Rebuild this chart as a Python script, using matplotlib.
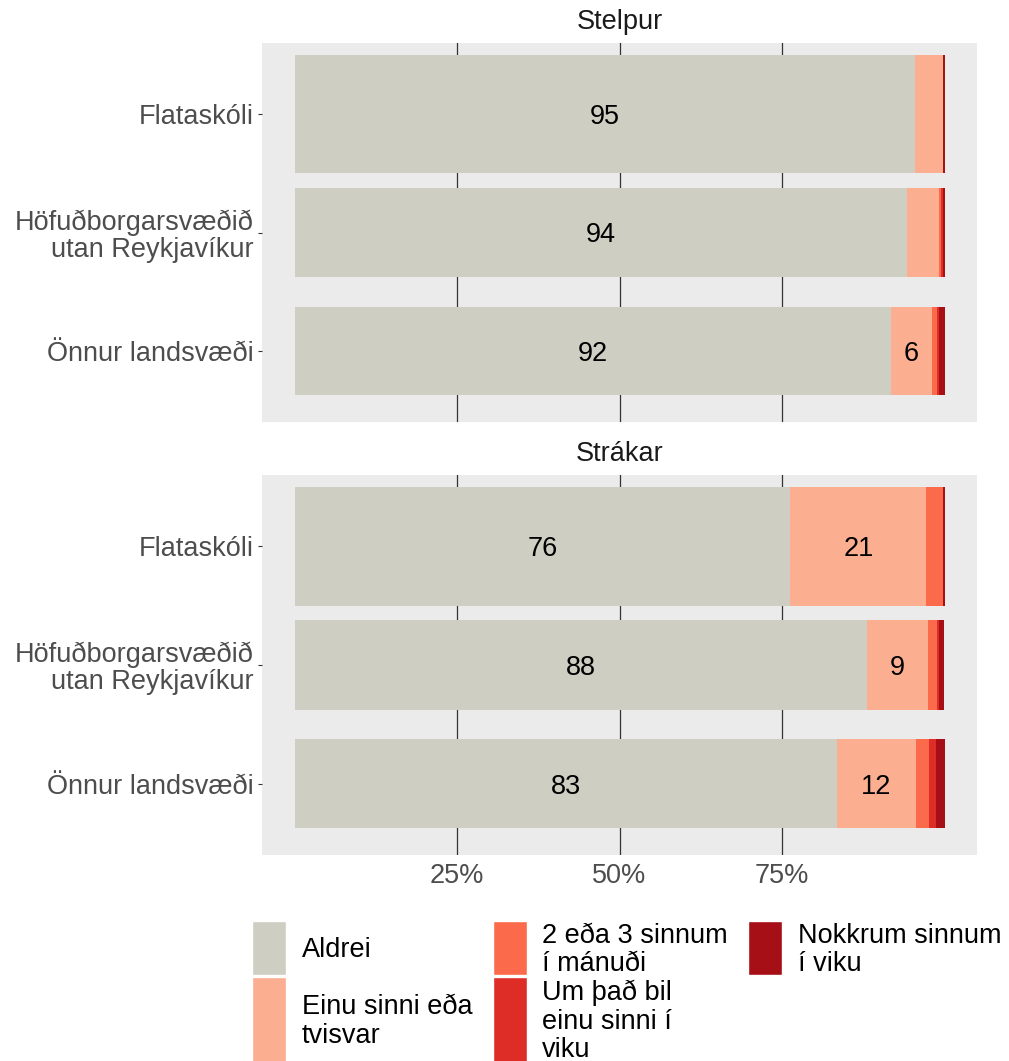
import matplotlib
matplotlib.use("Agg")
import matplotlib.pyplot as plt
from matplotlib.patches import Rectangle
import numpy as np

plt.rcParams['font.family'] = ['Liberation Sans', 'DejaVu Sans']

# Gögn (prósentur lesnar af myndinni)
skolar = ['Flataskóli', 'Höfuðborgarsvæðið\nutan Reykjavíkur', 'Önnur landsvæði']
svor = ['Aldrei', 'Einu sinni eða\ntvisvar', '2 eða 3 sinnum\ní mánuði',
        'Um það bil\neinu sinni í\nviku', 'Nokkrum sinnum\ní viku']
litir = ['#CECEC2', '#FCAE91', '#FB6A4A', '#DE2D26', '#A50F15']

stelpur_aldrei = [95.4, 94.3, 91.7]
stelpur_einu = [4.4, 4.9, 6.4]
stelpur_2_3 = [0.0, 0.2, 0.7]
stelpur_vika = [0.0, 0.3, 0.4]
stelpur_nokkrum = [0.2, 0.3, 0.8]

strakar_aldrei = [76.3, 88.0, 83.4]
strakar_einu = [20.9, 9.4, 12.2]
strakar_2_3 = [2.6, 1.4, 2.0]
strakar_vika = [0.0, 0.3, 1.1]
strakar_nokkrum = [0.2, 0.9, 1.3]

hopar = ['Stelpur', 'Strákar']
gildi = {
    'Stelpur': [stelpur_aldrei, stelpur_einu, stelpur_2_3, stelpur_vika, stelpur_nokkrum],
    'Strákar': [strakar_aldrei, strakar_einu, strakar_2_3, strakar_vika, strakar_nokkrum],
}

W, H = 1009, 1061
fig = plt.figure(figsize=(W / 100, H / 100), dpi=100)
FS = 19.5
GREY = '#4D4D4D'


def fig_box(x0, y0, x1, y1):
    return [x0 / W, 1 - y1 / H, (x1 - x0) / W, (y1 - y0) / H]


panels = [(43, 422), (475, 855)]
breiddir = [1.0, 0.75, 0.75]
ypos = np.arange(1, len(skolar) + 1)

for i, (hopur, (top, bot)) in enumerate(zip(hopar, panels)):
    ax = fig.add_axes(fig_box(262, top, 977, bot))
    ax.set_facecolor('#EBEBEB')
    for s in ax.spines.values():
        s.set_visible(False)
    left = np.zeros(len(skolar))
    for j, vals in enumerate(gildi[hopur]):
        v = np.array(vals) / 100
        ax.barh(ypos, v, left=left, height=breiddir, color=litir[j], zorder=2)
        for k in range(len(skolar)):
            if vals[k] >= 5:
                ax.text(left[k] + v[k] / 2, ypos[k], f'{vals[k]:.0f}', ha='center',
                        va='center_baseline', fontsize=FS, color='black', zorder=3)
        left += v
    ax.set_xlim(-0.05, 1.05)
    ax.set_ylim(3.6, 0.4)
    ax.set_xticks([0.25, 0.5, 0.75])
    ax.xaxis.grid(True, color='#333333', lw=0.9, zorder=0)
    ax.set_axisbelow(True)
    ax.set_yticks(ypos)
    ax.set_yticklabels(skolar, fontsize=FS, color=GREY, linespacing=1.05)
    ax.tick_params(axis='y', length=3, color='#333333', pad=3)
    if i == len(hopar) - 1:
        ax.set_xticklabels(['25%', '50%', '75%'], fontsize=FS, color=GREY)
        ax.tick_params(axis='x', length=0, pad=6)
    else:
        ax.set_xticklabels([])
        ax.tick_params(axis='x', length=0)
    fig.text(620 / W, 1 - (top - 21) / H, hopur, ha='center', va='center',
             fontsize=FS, color='#1A1A1A')

# Skýringar (legend) neðst
dalkar = [(252, 302), (493, 542), (748, 798)]
radir = [(921, 975), (977, 1062)]
stadir = [(0, 0), (0, 1), (1, 0), (1, 1), (2, 0)]
for j, (d, r) in enumerate(stadir):
    kx, tx = dalkar[d]
    y0, y1 = radir[r]
    fig.add_artist(Rectangle((kx / W, 1 - y1 / H), 34 / W, (y1 - y0) / H,
                             transform=fig.transFigure, facecolor=litir[j],
                             edgecolor='white', lw=1))
    fig.text(tx / W, 1 - ((y0 + y1) / 2 + 2) / H, svor[j], ha='left', va='center',
             fontsize=FS, color='black', linespacing=1.12)

fig.savefig('out.png', dpi=100)
